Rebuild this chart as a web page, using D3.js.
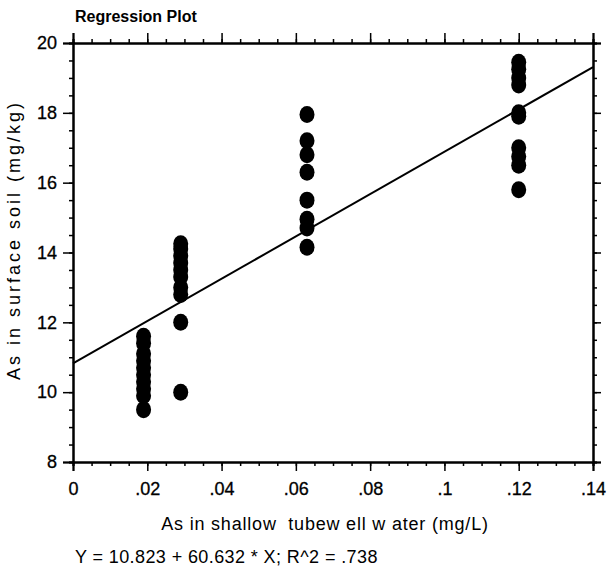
<!DOCTYPE html>
<html>
<head>
<meta charset="utf-8">
<script src="https://cdn.jsdelivr.net/npm/d3@7"></script>
<style>
  body { margin: 0; background: #fff; }
  text { font-family: "Liberation Sans", Arial, sans-serif; fill: #000; }
</style>
</head>
<body>
<div id="my-chart"></div>
<script>

// data: x value of each column and soil values in it
var xCols = [0.019, 0.029, 0.063, 0.12];
var col1 = [11.6, 11.4, 11.1, 10.9, 10.7, 10.5, 10.3, 10.1, 9.9, 9.5];
var col2 = [14.25, 14.1, 13.9, 13.7, 13.5, 13.3, 13.0, 12.8, 12.0, 10.0];
var col3 = [17.95, 17.2, 16.8, 16.3, 15.5, 14.95, 14.7, 14.15];
var col4 = [19.45, 19.25, 19.0, 18.8, 18.0, 17.9, 17.0, 16.75, 16.5, 15.8];
var xTicks = [0, 0.02, 0.04, 0.06, 0.08, 0.1, 0.12, 0.14];
var yTicks = [8, 10, 12, 14, 16, 18, 20];
var intercept = 10.823, slope = 60.632;

var margin = {top: 43, right: 15, bottom: 114, left: 73},
width = 608 - margin.left - margin.right,
height = 576 - margin.top - margin.bottom;

var svg = d3.select("#my-chart")
    .append('svg')
    .attr('width', 608)
    .attr('height', 576)
    .append('g')
    .attr('transform', 'translate(' + margin.left + ',' + margin.top + ')');

var x = d3.scaleLinear().domain([0, 0.14]).range([0, width]);
var y = d3.scaleLinear().domain([8, 20]).range([height, 0]);

var fmtX = function(d) { return d === 0 ? '0' : d3.format('.2~f')(d).replace(/^0/, ''); };

// minor ticks on all four sides
var xMinor = d3.range(0, 0.1401, 0.005);
var yMinor = d3.range(8, 20.01, 0.5);

function addAxis(axis, tr) {
    var g = svg.append('g').attr('transform', tr).call(axis);
    g.select('.domain').attr('stroke-width', 2);
    g.selectAll('line').attr('stroke-width', 1.5);
    return g;
}

// bottom
addAxis(d3.axisBottom(x).tickValues(xMinor).tickSize(4).tickFormat(''), 'translate(0,' + height + ')');
var gb = addAxis(d3.axisBottom(x).tickValues(xTicks).tickSize(9).tickPadding(11).tickFormat(fmtX), 'translate(0,' + height + ')');
gb.selectAll('text').attr('font-size', 18).attr('stroke', '#000').attr('stroke-width', 0.3);
// top
addAxis(d3.axisTop(x).tickValues(xMinor).tickSize(4).tickFormat(''), 'translate(0,0)');
addAxis(d3.axisTop(x).tickValues(xTicks).tickSize(10).tickFormat(''), 'translate(0,0)');
// left
addAxis(d3.axisLeft(y).tickValues(yMinor).tickSize(4).tickFormat(''), 'translate(0,0)');
var gl = addAxis(d3.axisLeft(y).tickValues(yTicks).tickSize(10).tickPadding(6).tickFormat(d3.format('d')), 'translate(0,0)');
gl.selectAll('text').attr('font-size', 18).attr('stroke', '#000').attr('stroke-width', 0.3);
// right
addAxis(d3.axisRight(y).tickValues(yMinor).tickSize(4).tickFormat(''), 'translate(' + width + ',0)');
addAxis(d3.axisRight(y).tickValues(yTicks).tickSize(8).tickFormat(''), 'translate(' + width + ',0)');

// regression line
svg.append('path')
    .datum([0, 0.14])
    .attr('fill', 'none')
    .attr('stroke', '#000')
    .attr('stroke-width', 2)
    .attr('d', d3.line()
        .x(function(d) { return x(d); })
        .y(function(d) { return y(intercept + slope * d); }));

// points
var pts = [];
[col1, col2, col3, col4].forEach(function(col, i) {
    col.forEach(function(v) { pts.push({x: xCols[i], y: v}); });
});
svg.append('g').selectAll('ellipse')
    .data(pts)
    .enter().append('ellipse')
    .attr('cx', function(d) { return x(d.x); })
    .attr('cy', function(d) { return y(d.y); })
    .attr('rx', 7.5)
    .attr('ry', 8.5)
    .attr('fill', '#000');

// texts
svg.append('text')
    .attr('x', 2).attr('y', -21)
    .attr('font-size', 16).attr('font-weight', 'bold')
    .text('Regression Plot');

svg.append('text')
    .attr('x', 252).attr('y', height + 68)
    .attr('text-anchor', 'middle')
    .attr('font-size', 18)
    .attr('letter-spacing', 0.8)
    .style('white-space', 'pre')
    .text('As in shallow  tubew ell w ater (mg/L)');

svg.append('text')
    .attr('transform', 'translate(-53,197) rotate(-90)')
    .attr('text-anchor', 'middle')
    .attr('font-size', 18)
    .attr('letter-spacing', 3)
    .text('As in surface soil (mg/kg)');

svg.append('text')
    .attr('x', 2).attr('y', height + 101)
    .attr('font-size', 18)
    .attr('letter-spacing', 0.4)
    .text('Y = 10.823 + 60.632 * X; R^2 = .738');

</script>
</body>
</html>
